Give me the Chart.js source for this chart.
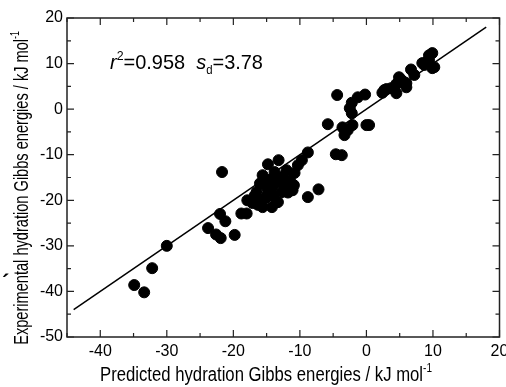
<!DOCTYPE html>
<html>
<head>
<meta charset="utf-8">
<script src="https://cdn.jsdelivr.net/npm/chart.js@4.4.1/dist/chart.umd.min.js"></script>
<style>
  html, body { margin: 0; padding: 0; background: #fff; }
  #wrap { width: 506px; height: 387px; }
</style>
</head>
<body>
<div id="wrap"><canvas id="chart"></canvas></div>
<script>
// predicted (x) vs experimental (y) hydration Gibbs energies, kJ/mol
const predicted = [
  -34.9, -33.4, -32.2, -30.0,
  -23.8, -22.0, -21.2, -22.6, -21.9, -19.8, -21.7,
  -18.8, -18.0, -17.9, -17.1, -16.5, -16.0, -15.6, -16.0, -15.6,
  -14.8, -14.1, -13.5, -14.2, -15.0, -13.5, -12.7, -12.7, -12.0, -11.5,
  -11.1, -10.8, -10.3, -9.7, -14.8, -13.2, -8.8, -8.8, -7.2, -11.1,
  -10.9, -13.3, -16.8, -15.2, -14.5, -13.8, -15.3, -12.5, -16.3, -14.0,
  -11.8, -16.5, -15.0,
  -5.8, -4.6, -3.7, -3.6, -3.3, -2.1, -2.8, 0.0, 0.4,
  -4.4, -2.2, -1.3, -0.2, -2.2, -2.5,
  2.4, 3.0, 3.7, 4.5, 4.5, 4.9, 5.7, 6.0, 6.0, 6.7, 5.2,
  8.4, 9.0, 9.4, 9.9, 9.9, 10.2, 8.7, 9.4, 7.2, 2.7
];
const experimental = [
  -38.6, -40.2, -34.9, -30.0,
  -26.1, -23.0, -24.6, -27.5, -28.3, -27.6, -13.8,
  -22.9, -22.9, -20.0, -20.6, -18.2, -16.3, -14.5, -20.0, -21.5,
  -18.5, -17.1, -20.4, -21.5, -17.1, -16.0, -18.2, -14.9, -13.4, -15.6,
  -17.1, -14.0, -12.3, -11.2, -12.1, -11.2, -9.5, -19.3, -17.6, -17.8,
  -16.7, -20.4, -19.0, -19.5, -15.5, -13.8, -16.0, -16.5, -21.0, -19.0,
  -18.3, -20.6, -19.3,
  -3.3, -9.9, -10.1, -4.0, -5.7, -3.5, -4.6, -3.5, -3.5,
  3.1, 1.4, 2.6, 3.2, -0.9, 0.2,
  3.6, 4.4, 4.6, 5.5, 3.5, 7.0, 5.9, 4.8, 5.7, 8.7, 6.5,
  10.1, 10.3, 11.8, 12.3, 9.0, 9.2, 9.7, 10.8, 7.5, 4.2
];
// y = x reference line
const fitX = [-44, 18];
const fitY = [-44, 18];

const xMin = -45, xMax = 20, yMin = -50, yMax = 20, tickStep = 5;

const FONT = "'Liberation Sans', Arial, sans-serif";

// draws a run of text pieces (sup/sub) with horizontal squeeze
function drawRich(ctx, parts, x, y, opt) {
  ctx.save();
  ctx.translate(x, y);
  if (opt.rot) ctx.rotate(opt.rot);
  ctx.scale(opt.sx || 1, 1);
  ctx.fillStyle = '#000';
  ctx.textBaseline = 'alphabetic';
  let w = 0;
  parts.forEach(p => {
    ctx.font = (p.style || '') + ' ' + p.size + 'px ' + FONT;
    p.w = ctx.measureText(p.t).width;
    w += p.w;
  });
  let cx = opt.align === 'center' ? -w / 2 : 0;
  parts.forEach(p => {
    ctx.font = (p.style || '') + ' ' + p.size + 'px ' + FONT;
    ctx.fillText(p.t, cx, p.dy || 0);
    cx += p.w;
  });
  ctx.restore();
}

const framePlugin = {
  id: 'frame',
  afterDraw(chart) {
    const ctx = chart.ctx;
    const a = chart.chartArea;
    const xs = chart.scales.x, ys = chart.scales.y;
    ctx.save();
    ctx.strokeStyle = '#222';
    ctx.lineWidth = 1.5;
    ctx.strokeRect(a.left, a.top, a.right - a.left, a.bottom - a.top);
    ctx.lineWidth = 1.2;
    ctx.beginPath();
    xs.ticks.forEach(t => {
      const px = xs.getPixelForValue(t.value);
      const len = t.value % 10 === 0 ? 7 : 4;
      ctx.moveTo(px, a.bottom); ctx.lineTo(px, a.bottom - len);
      ctx.moveTo(px, a.top); ctx.lineTo(px, a.top + len);
    });
    ys.ticks.forEach(t => {
      const py = ys.getPixelForValue(t.value);
      const len = t.value % 10 === 0 ? 7 : 4;
      ctx.moveTo(a.left, py); ctx.lineTo(a.left + len, py);
      ctx.moveTo(a.right, py); ctx.lineTo(a.right - len, py);
    });
    ctx.stroke();
    ctx.restore();

    // axis titles
    drawRich(ctx, [
      { t: 'Predicted hydration Gibbs energies / kJ mol', size: 20 },
      { t: '-1', size: 12, dy: -9 }
    ], 266, 381, { align: 'center', sx: 0.835 });
    drawRich(ctx, [
      { t: 'Experimental hydration Gibbs energies / kJ mol', size: 20 },
      { t: '-1', size: 12, dy: -9 }
    ], 28, 188, { align: 'center', sx: 0.73, rot: -Math.PI / 2 });

    // statistics
    drawRich(ctx, [
      { t: 'r', size: 21, style: 'italic' },
      { t: '2', size: 13, dy: -9 },
      { t: '=0.958  ', size: 21 },
      { t: 's', size: 21, style: 'italic' },
      { t: 'd', size: 12, dy: 5 },
      { t: '=3.78', size: 21 }
    ], 110, 69, { align: 'left', sx: 0.95 });

    drawRich(ctx, [{ t: '\u00b4', size: 22, style: 'bold' }], 2, 290, { align: 'left' });
  }
};

const points = predicted.map((x, i) => ({ x: x, y: experimental[i] }));
const line = fitX.map((x, i) => ({ x: x, y: fitY[i] }));

new Chart(document.getElementById('chart'), {
  type: 'scatter',
  data: {
    datasets: [
      {
        type: 'line',
        data: line,
        borderColor: '#000',
        borderWidth: 1.5,
        pointRadius: 0,
        fill: false
      },
      {
        data: points,
        backgroundColor: '#000',
        borderColor: '#000',
        pointRadius: 5.5,
        borderWidth: 1
      }
    ]
  },
  options: {
    responsive: true,
    maintainAspectRatio: false,
    animation: false,
    layout: { padding: { top: 18, right: 5, left: 0, bottom: 0 } },
    plugins: { legend: { display: false }, tooltip: { enabled: false } },
    scales: {
      x: {
        type: 'linear',
        min: xMin, max: xMax,
        grid: { display: false, drawTicks: false, tickLength: 0 },
        border: { display: false },
        ticks: {
          stepSize: tickStep,
          autoSkip: false,
          maxRotation: 0,
          padding: 5,
          color: '#000',
          font: { family: FONT, size: 16 },
          callback: v => (v % 10 === 0 ? v : '')
        },
        afterFit: s => { s.height = 50; s.paddingLeft = 0; s.paddingRight = 0; }
      },
      y: {
        type: 'linear',
        min: yMin, max: yMax,
        grid: { display: false, drawTicks: false, tickLength: 0 },
        border: { display: false },
        ticks: {
          stepSize: tickStep,
          autoSkip: false,
          padding: 4,
          color: '#000',
          font: { family: FONT, size: 16 },
          callback: v => (v % 10 === 0 ? v : '')
        },
        afterFit: s => { s.width = 67; s.paddingTop = 0; s.paddingBottom = 0; }
      }
    }
  },
  plugins: [framePlugin]
});
</script>
</body>
</html>
